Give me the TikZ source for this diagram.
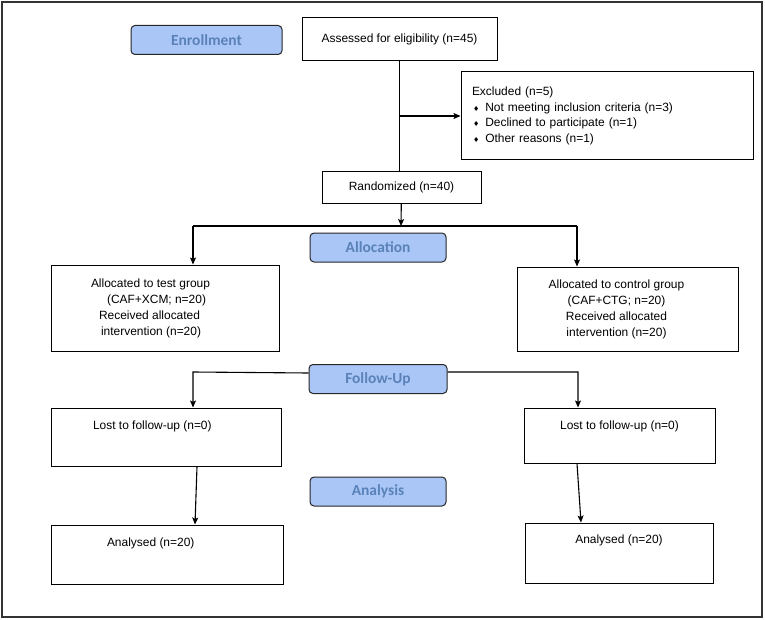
\documentclass[tikz,border=0pt]{standalone}
\usepackage{fontspec}
\setmainfont{Liberation Sans}
\newfontfamily\stagefont{Carlito}
\newfontfamily\symfont{DejaVu Sans}
\usetikzlibrary{arrows.meta}
\definecolor{stageFill}{HTML}{A9C6F7}
\definecolor{stageText}{HTML}{5A82B8}
\newcommand{\dmd}{\hspace*{1bp}{\symfont\fontsize{7}{8}\selectfont ♦}\hspace{6bp}}

\begin{document}
\begin{tikzpicture}
[x=1bp,y=-1bp,
  lineDecorate/.style={-,line width=1.1bp},%
  arrowDecorate/.style={->,>={Stealth[length=7bp,width=6bp,inset=1.5bp]},line width=1.1bp},
  boxText/.style={font=\fontsize{12}{16}\selectfont},
  boxDecorate/.style={shape=rectangle,draw,line width=1bp,inner sep=0pt,boxText},
  stageDecorate/.style={shape=rectangle,rounded corners=4bp,draw=black!85,line width=1bp,
    fill=stageFill,text=stageText,font=\stagefont\bfseries\fontsize{15.5}{18}\selectfont,
    minimum height=29bp}]
%%
\useasboundingbox (0,0) rectangle (765,620);
\draw[line width=1.5bp,black!80] (2,2) rectangle (762,617);
%%
%%%%%%%%%%%%%%%%%%%%%%%%%%%%%%%%%%%%%%%%%%%%%%%%%%%%%%%%%%%%%%%%%%%%%%%%%%%
%%
%% stage labels
\foreach \nodename/\x/\y/\w/\txt in {
  enroll/206.5/40/151/Enrollment,
  alloc/378/247.5/136/Allocation,
  follow/378/379/138/Follow-Up,
  analysis/378/491.5/136/Analysis}
{
  \node (\nodename) at (\x,\y) [stageDecorate,minimum width=\w bp] {\txt};
}
%%
%%%%%%%%%%%%%%%%%%%%%%%%%%%%%%%%%%%%%%%%%%%%%%%%%%%%%%%%%%%%%%%%%%%%%%%%%%%
%%
%% enrollment
\node (assess) at (399.5,39.5) [boxDecorate,minimum width=195bp,minimum height=43bp]
  {Assessed for eligibility (n=45)};
\node (excl) at (607,116) [boxDecorate,minimum width=292bp,minimum height=88bp,
  text width=270bp,align=left,font=\fontsize{12}{15.5}\selectfont]
  {Excluded (n=5)\\
   \dmd Not meeting inclusion criteria (n=3)\\
   \dmd Declined to participate (n=1)\\
   \dmd Other reasons (n=1)};
\node (rand) at (401.5,187.5) [boxDecorate,minimum width=159bp,minimum height=31bp]
  {Randomized (n=40)};
%%
%% allocation
\node (allocL) at (165.5,308) [boxDecorate,minimum width=227bp,minimum height=86bp,
  label={[boxText,align=left,anchor=west,xshift=36bp]west:Allocated to test group\\
   \hspace*{16bp}(CAF+XCM; n=20)\\
   \hspace*{8bp}Received allocated\\
   \hspace*{10bp}intervention (n=20)}] {};
\node (allocR) at (627.5,309) [boxDecorate,minimum width=221bp,minimum height=84bp,
  label={[boxText,align=center,xshift=-11bp]center:Allocated to control group\\
   (CAF+CTG; n=20)\\
   Received allocated\\
   intervention (n=20)}] {};
%%
%% follow-up and analysis
\node (lostL) at (166.5,437) [boxDecorate,minimum width=229bp,minimum height=58bp,
  label={[boxText,anchor=north west,xshift=38bp,yshift=-10bp]north west:Lost to follow-up (n=0)}] {};
\node (lostR) at (619.5,435.5) [boxDecorate,minimum width=191bp,minimum height=55bp,
  label={[boxText,anchor=north,yshift=-10bp]north:Lost to follow-up (n=0)}] {};
\node (anL) at (167.5,554.5) [boxDecorate,minimum width=231bp,minimum height=59bp,
  label={[boxText,anchor=north west,xshift=52bp,yshift=-10bp]north west:Analysed (n=20)}] {};
\node (anR) at (619,553) [boxDecorate,minimum width=188bp,minimum height=60bp,
  label={[boxText,anchor=north,yshift=-9bp]north:Analysed (n=20)}] {};
%%
%%%%%%%%%%%%%%%%%%%%%%%%%%%%%%%%%%%%%%%%%%%%%%%%%%%%%%%%%%%%%%%%%%%%%%%%%%%
%%
%% connectors
\coordinate (split) at (401,226);
\coordinate (splitL) at (193,226);
\coordinate (splitR) at (577,226);
\coordinate (followL) at (193,372);
\coordinate (followR) at (578,372);
%%
\draw[lineDecorate] (assess) -- (assess |- rand.north);
\draw[arrowDecorate] (assess |- excl.west) -- (excl.west);
\draw[arrowDecorate] (rand) -- (split);
\draw[lineDecorate] (splitL) -- (splitR);
\draw[arrowDecorate] (splitL) -- (splitL |- allocL.north);
\draw[arrowDecorate] (splitR) -- (splitR |- allocR.north);
\draw[arrowDecorate] ([yshift=6bp]follow.west) -- (followL) -- (followL |- lostL.north);
\draw[arrowDecorate] ([yshift=7bp]follow.east) -- (followR) -- (followR |- lostR.north);
\draw[arrowDecorate] ([xshift=30.5bp]lostL.south) -- ([xshift=27.5bp]anL.north);
\draw[arrowDecorate] ([xshift=-42.5bp]lostR.south) -- ([xshift=-38bp]anR.north);
\end{tikzpicture}
\end{document}
